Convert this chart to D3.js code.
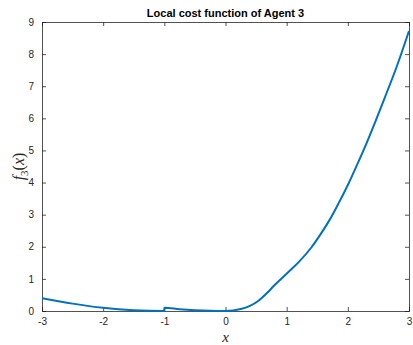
<!DOCTYPE html>
<html>
<head>
<meta charset="utf-8">
<script src="https://cdn.jsdelivr.net/npm/d3@7"></script>
<style>
	body { margin: 0; background: #fff; }
	.axis text { font-family: "Liberation Sans", Arial, sans-serif; font-size: 10px; fill: #262626; }
	.axis path, .axis line { stroke: #262626; stroke-width: 0.8px; }
</style>
</head>
<body>
<script>

var width = 413,
	height = 345;

var margin = { top: 22, right: 4, bottom: 34, left: 42 };

// samples
var xs = [-3, -2.5, -2, -1.5, -1.002, -1, -0.75, -0.5, -0.25, 0, 0.25, 0.4, 0.54, 0.7, 0.8, 0.9, 1.054, 1.2, 1.4, 1.55, 1.7, 1.85, 2.0, 2.15, 2.3, 2.45, 2.6, 2.8, 3];
var ys = [0.40, 0.23, 0.10, 0.025, 0.0, 0.10, 0.056, 0.025, 0.006, 0, 0.06, 0.16, 0.32, 0.6, 0.8, 0.98, 1.26, 1.53, 1.97, 2.38, 2.83, 3.36, 3.925, 4.55, 5.2, 5.9, 6.625, 7.615, 8.72];

var xTicks = [-3, -2, -1, 0, 1, 2, 3];
var yTicks = [0, 1, 2, 3, 4, 5, 6, 7, 8, 9];

var pts = xs.map(function(d, i) { return { x: d, y: ys[i] }; });

var svg = d3.select("body").append("svg")
	.attr("width", width)
	.attr("height", height);

var w = width - margin.left - margin.right,
	h = height - margin.top - margin.bottom;

var x = d3.scaleLinear().domain([-3, 3]).range([0, w]);
var y = d3.scaleLinear().domain([0, 9]).range([h, 0]);

var g = svg.append("g")
	.attr("transform", "translate(" + margin.left + "," + margin.top + ")");

var fmt = function(d) { return String(d); };

g.append("g").attr("class", "axis")
	.attr("transform", "translate(0," + h + ")")
	.call(d3.axisBottom(x).tickValues(xTicks).tickSize(-4).tickPadding(7).tickFormat(fmt));

g.append("g").attr("class", "axis")
	.call(d3.axisTop(x).tickValues(xTicks).tickSize(-4).tickFormat(""));

g.append("g").attr("class", "axis")
	.call(d3.axisLeft(y).tickValues(yTicks).tickSize(-4).tickPadding(8).tickFormat(fmt));

g.append("g").attr("class", "axis")
	.attr("transform", "translate(" + w + ",0)")
	.call(d3.axisRight(y).tickValues(yTicks).tickSize(-4).tickFormat(""));

var line = d3.line()
	.x(function(d) { return x(d.x); })
	.y(function(d) { return y(d.y); })
	.curve(d3.curveMonotoneX);

g.append("path")
	.datum(pts)
	.attr("d", line)
	.attr("fill", "none")
	.attr("stroke", "#0072BD")
	.attr("stroke-width", 2)
	.attr("stroke-linejoin", "round");

svg.append("text")
	.attr("x", margin.left + w / 2)
	.attr("y", 17)
	.attr("text-anchor", "middle")
	.style("font-family", "Liberation Sans, Arial, sans-serif")
	.style("font-weight", "bold")
	.style("font-size", "11px")
	.style("fill", "#000")
	.text("Local cost function of Agent 3");

svg.append("text")
	.attr("x", margin.left + w / 2)
	.attr("y", 342)
	.attr("text-anchor", "middle")
	.style("font-family", "Liberation Serif, serif")
	.style("font-style", "italic")
	.style("font-size", "15px")
	.style("fill", "#262626")
	.text("x");

var yl = svg.append("text")
	.attr("transform", "translate(24," + (margin.top + h / 2) + ") rotate(-90)")
	.attr("text-anchor", "middle")
	.style("font-family", "Liberation Serif, serif")
	.style("font-size", "16px")
	.style("fill", "#262626");
yl.append("tspan").style("font-style", "italic").text("f");
yl.append("tspan").attr("dy", 4).style("font-size", "11px").text("3");
yl.append("tspan").attr("dy", -4).text("(");
yl.append("tspan").style("font-style", "italic").text("x");
yl.append("tspan").text(")");

</script>
</body>
</html>
